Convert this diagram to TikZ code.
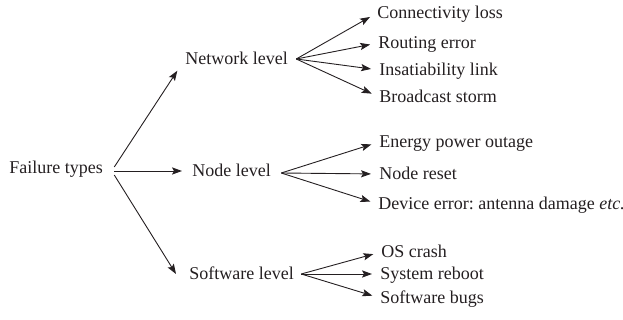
\documentclass[tikz,border=0pt]{standalone}
\usepackage{fontspec}
\setmainfont{Liberation Serif}
\usetikzlibrary{arrows.meta,calc}
\definecolor{ink}{rgb}{0.14,0.12,0.13}
\frenchspacing
\tikzset{
  lbl/.style={anchor=west, inner sep=0pt, text height=6pt, text depth=0pt,
    font=\fontsize{9pt}{11pt}\selectfont\frenchspacing, text=ink},
  arr/.style={draw=ink, line width=0.45pt,
    -{Stealth[length=5pt,width=3.6pt,inset=1pt]}},
  fan/.style={arr, shorten >=4pt}
}
\begin{document}
\begin{tikzpicture}[x=0.5pt,y=-0.5pt]
\useasboundingbox (0,0) rectangle (623,320);
% nodes
\node[lbl] (ft) at (9,168) {Failure types};
\node[lbl] (net) at (185,59) {Network level};
\node[lbl] (nl) at (192,171) {Node level};
\node[lbl] (sw) at (189,274) {Software level};
\node[lbl] (c1) at (377,13) {Connectivity loss};
\node[lbl] (c2) at (378,43) {Routing error};
\node[lbl] (c3) at (379,70) {Insatiability link};
\node[lbl] (c4) at (379,97) {Broadcast storm};
\node[lbl] (n1) at (379,142) {Energy power outage};
\node[lbl] (n2) at (379,174) {Node reset};
\node[lbl] (n3) at (378,204) {Device error: antenna damage \textit{etc.}};
\node[lbl] (s1) at (381,252) {OS crash};
\node[lbl] (s2) at (380,274) {System reboot};
\node[lbl] (s3) at (380,298) {Software bugs};
% fork points
\coordinate (fa) at ($(ft.east)+(11,-1)$);
\coordinate (fb) at ($(ft.east)+(11,3)$);
\coordinate (fc) at ($(ft.east)+(11,7)$);
\coordinate (pnet) at ($(net.east)+(8,0)$);
\coordinate (pnl) at ($(nl.east)+(10,2)$);
\coordinate (psw) at ($(sw.east)+(7,0)$);
% main arrows
\draw[arr, shorten >=7pt] (fa) -- (net.west);
\draw[arr] (fb) -- ($(nl.west)+(-10,0)$);
\draw[arr] (fc) -- ($(sw.west)+(-13,0)$);
% fans
\foreach \t in {c1,c2,c3,c4} \draw[fan] (pnet) -- (\t.west);
\foreach \t in {n1,n2,n3} \draw[fan] (pnl) -- (\t.west);
\foreach \t in {s1,s2,s3} \draw[fan] (psw) -- (\t.west);
\end{tikzpicture}
\end{document}
